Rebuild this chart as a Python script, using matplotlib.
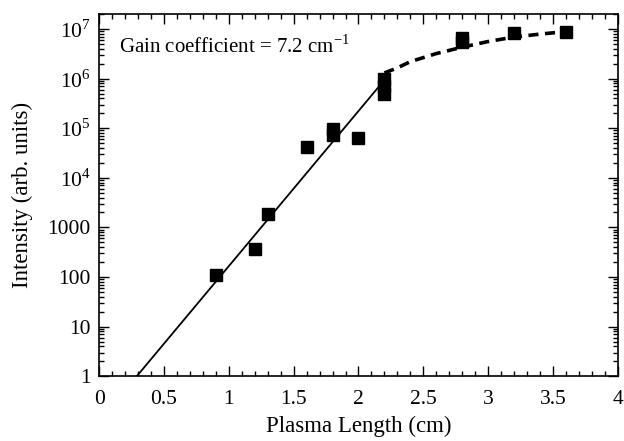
import numpy as np
import matplotlib
matplotlib.use("Agg")
import matplotlib.pyplot as plt
from matplotlib.ticker import FixedLocator, FixedFormatter, LogLocator, MultipleLocator

plt.rcParams['font.family'] = ['Liberation Serif', 'DejaVu Serif']
plt.rcParams['mathtext.fontset'] = 'custom'
plt.rcParams['mathtext.rm'] = 'Liberation Serif'

# measured points
length = [0.9, 1.2, 1.3, 1.6, 1.8, 1.8, 2.0, 2.2, 2.2, 2.2, 2.8, 2.8, 3.2, 3.6]
intensity = [110, 360, 1900, 41000, 95000, 72000, 63000,
             1.0e6, 7.0e5, 5.0e5, 6.5e6, 5.5e6, 8.2e6, 8.7e6]

# exponential fit
gain = 7.2          # cm^-1
fit_start = 0.29    # cm, where fit crosses 1
fit_end = 2.2

# saturation (dashed) curve
sat_x = [2.2, 2.3, 2.4, 2.6, 2.8, 3.0, 3.2, 3.4, 3.6]
sat_y = [1.3e6, 1.65e6, 2.2e6, 3.2e6, 4.3e6, 5.6e6, 6.9e6, 7.9e6, 8.9e6]

yticks = [1, 10, 100, 1000, 1e4, 1e5, 1e6, 1e7]
ylabels = ["1", "10", "100", "1000", "10$^4$", "10$^5$", "10$^6$", "10$^7$"]

fig = plt.figure(figsize=(6.24, 4.41), dpi=100)
ax = fig.add_axes([0.159, 0.147, 0.831, 0.821])

xf = np.array([fit_start, fit_end])
ax.plot(xf, np.exp(gain * (xf - fit_start)), color="black", linewidth=1.3)
ax.plot(sat_x, sat_y, color="black", linewidth=2.6, linestyle=(0, (2.8, 1.8)))
ax.plot(length, intensity, linestyle="none", marker="s", color="black", markersize=8)

ax.set_yscale("log")
ax.set_xlim(0, 4)
ax.set_ylim(1, 2e7)
ax.xaxis.set_major_locator(MultipleLocator(0.5))
ax.xaxis.set_minor_locator(MultipleLocator(0.1))
ax.yaxis.set_major_locator(FixedLocator(yticks))
ax.yaxis.set_major_formatter(FixedFormatter(ylabels))
ax.yaxis.set_minor_locator(LogLocator(base=10, subs=np.arange(2, 10)))
ax.yaxis.set_minor_formatter(FixedFormatter([]))
ax.xaxis.set_major_formatter(plt.FuncFormatter(lambda v, p: "%g" % v))

ax.tick_params(which="both", direction="in", top=True, right=True, labelsize=15.5, width=1)
ax.tick_params(which="major", length=7, pad=6)
ax.tick_params(which="minor", length=3.5)
ax.tick_params(axis="x", which="major", pad=10)
for s in ax.spines.values():
    s.set_linewidth(1.2)

ax.set_xlabel("Plasma Length (cm)", fontsize=16.5, labelpad=5)
ax.set_ylabel("Intensity (arb. units)", fontsize=16.5)
ax.yaxis.set_label_coords(-0.127, 0.5)
ax.text(0.15, 4.5e6, "Gain coefficient = 7.2 cm$^{-1}$", fontsize=15, va="center", ha="left")

fig.savefig("out.png", dpi=100)
